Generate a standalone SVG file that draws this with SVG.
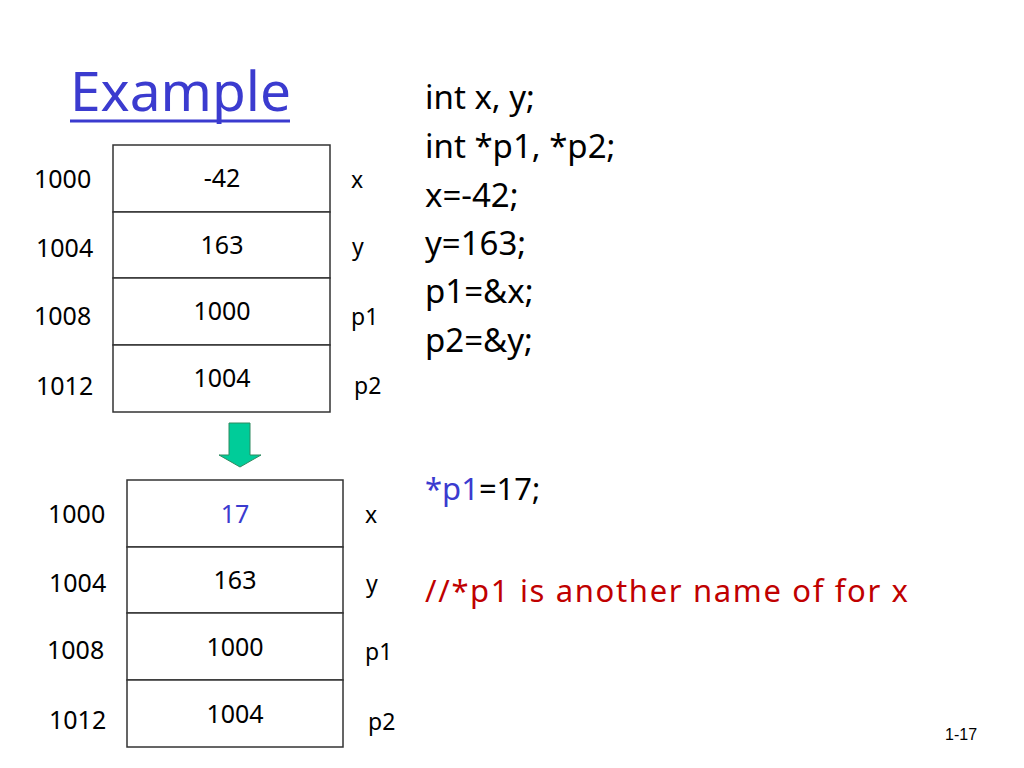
<svg xmlns="http://www.w3.org/2000/svg" width="1024" height="768" viewBox="0 0 1024 768">
<style>
text{font-family:"Noto Sans","DejaVu Sans",sans-serif;fill:#000}
.lbl{font-size:25px}
.nm{font-size:23px}
.val{font-size:25px;text-anchor:middle}
.code{font-size:33px}
.cell{fill:#fff;stroke:#333;stroke-width:1.5}
</style>
<rect width="1024" height="768" fill="#fff"/>
<g id="title">
<text x="70" y="111" style="font-size:55px;fill:#3b3bcf">Example</text>
<line x1="70" y1="121" x2="290" y2="121" stroke="#3b3bcf" stroke-width="3"/>
</g>
<g id="mem-before">
<rect class="cell" x="113" y="145" width="217" height="67"/>
<rect class="cell" x="113" y="212" width="217" height="66"/>
<rect class="cell" x="113" y="278" width="217" height="67"/>
<rect class="cell" x="113" y="345" width="217" height="67"/>
<text class="lbl" x="34" y="188">1000</text>
<text class="lbl" x="36" y="257">1004</text>
<text class="lbl" x="34" y="325">1008</text>
<text class="lbl" x="36" y="395">1012</text>
<text class="val" x="222" y="187">-42</text>
<text class="val" x="222" y="254">163</text>
<text class="val" x="222" y="320">1000</text>
<text class="val" x="222" y="387">1004</text>
<text class="nm" x="351" y="188">x</text>
<text class="nm" x="352" y="255">y</text>
<text class="nm" x="351" y="325">p1</text>
<text class="nm" x="354" y="394">p2</text>
</g>
<g id="connectors">
<polygon points="229,423 250,423 250,455 261,455 240,467 219,455 229,455" fill="#00cc99" stroke="#2f8a60" stroke-width="1"/>
</g>
<g id="mem-after">
<rect class="cell" x="127" y="480" width="216" height="67"/>
<rect class="cell" x="127" y="547" width="216" height="66"/>
<rect class="cell" x="127" y="613" width="216" height="67"/>
<rect class="cell" x="127" y="680" width="216" height="67"/>
<text class="lbl" x="48" y="523">1000</text>
<text class="lbl" x="49" y="592">1004</text>
<text class="lbl" x="47" y="659">1008</text>
<text class="lbl" x="49" y="729">1012</text>
<text class="val" x="235" y="523" style="fill:#3b3bcf">17</text>
<text class="val" x="235" y="589">163</text>
<text class="val" x="235" y="656">1000</text>
<text class="val" x="235" y="723">1004</text>
<text class="nm" x="365" y="523">x</text>
<text class="nm" x="366" y="592">y</text>
<text class="nm" x="365" y="660">p1</text>
<text class="nm" x="368" y="730">p2</text>
</g>
<g id="code">
<text class="code" x="425" y="109">int x, y;</text>
<text class="code" x="425" y="158">int *p1, *p2;</text>
<text class="code" x="425" y="207">x=-42;</text>
<text class="code" x="425" y="255">y=163;</text>
<text class="code" x="425" y="303">p1=&amp;x;</text>
<text class="code" x="425" y="352">p2=&amp;y;</text>
<text class="code" x="425" y="500" style="font-size:31px"><tspan style="fill:#3b3bcf">*p1</tspan>=17;</text>
<text class="code" x="425" y="602" style="fill:#c00000;font-size:31px" textLength="483" lengthAdjust="spacing">//*p1 is another name of for x</text>
</g>
<text x="945" y="740" style="font-family:'Liberation Sans',sans-serif;font-size:16px">1-17</text>
</svg>
